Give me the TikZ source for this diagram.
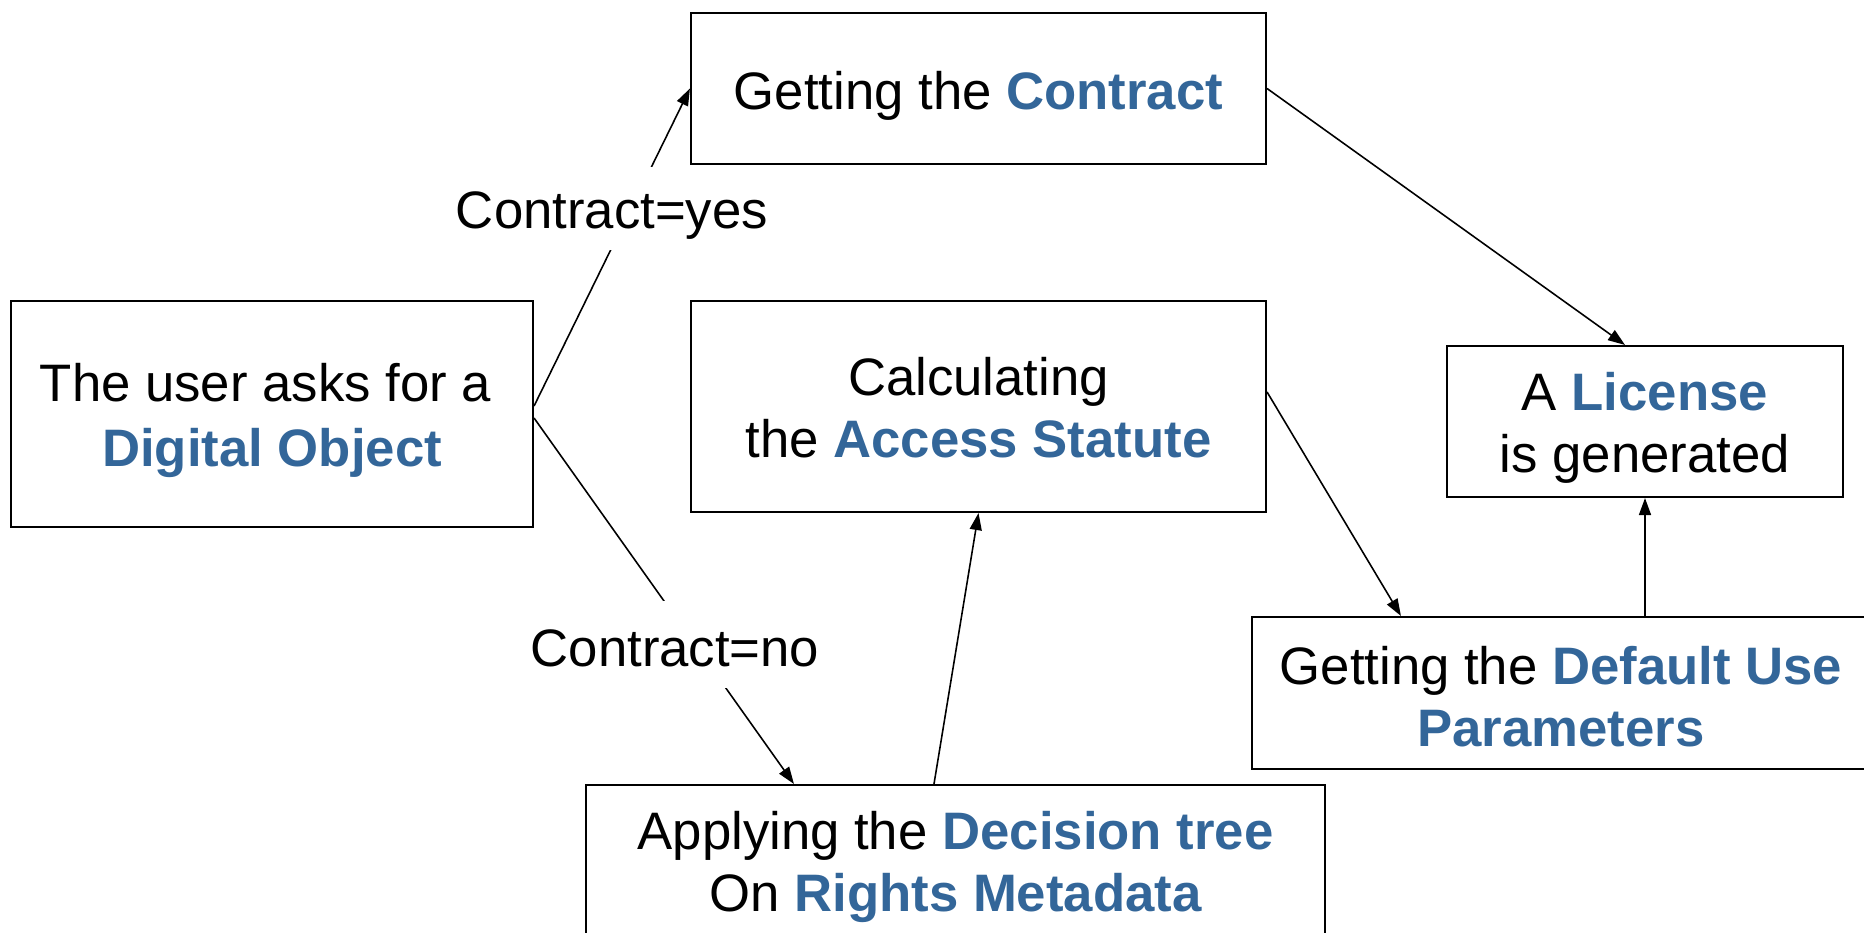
\documentclass[tikz,border=0pt]{standalone}
\usepackage{fontspec}
\setmainfont{Liberation Sans}
\usetikzlibrary{arrows.meta,calc,backgrounds}
\definecolor{kwblue}{RGB}{51,102,153}
\newcommand{\kw}[1]{\textbf{\color{kwblue}#1}}
\newcommand{\lift}[1]{\rule{0pt}{#1}}
\begin{document}
\begin{tikzpicture}[
  box/.style={draw=black, line width=0.6pt, inner sep=0pt, align=center,
              font=\fontsize{15}{17.6}\selectfont},
  lbl/.style={fill=white, inner sep=0pt, minimum width=3.2cm,
              font=\fontsize{15}{17.6}\selectfont},
  conn/.style={line width=0.45pt, -{Triangle[length=0.17cm,width=0.12cm]}},
  plain/.style={line width=0.45pt}
]
\useasboundingbox (0,0) rectangle (18.64,-9.32);

\node[box, minimum width=5.75cm, minimum height=1.51cm] (contract) at (9.785,-0.885)
  {\lift{15pt}Getting the \kw{Contract}};
\node[box, minimum width=5.22cm, minimum height=2.26cm] (user) at (2.72,-4.14)
  {\lift{14.5pt}\hspace*{-0.13cm}The user asks for a\\[1pt]\kw{Digital Object}};
\node[box, minimum width=5.75cm, minimum height=2.11cm] (access) at (9.785,-4.065)
  {\lift{11.6pt}Calculating\\the \kw{Access Statute}};
\node[box, minimum width=3.96cm, minimum height=1.51cm] (license) at (16.45,-4.215)
  {\lift{14.6pt}A \kw{License}\\is generated};
\node[box, minimum width=6.18cm, minimum height=1.52cm] (default) at (15.61,-6.93)
  {\lift{12.8pt}Getting the \kw{Default Use}\\\kw{Parameters}};
\node[box, minimum width=7.39cm, minimum height=1.54cm] (decision) at (9.555,-8.62)
  {\lift{13.8pt}Applying the \kw{Decision tree}\\On \kw{Rights Metadata}};

\node[lbl, minimum height=0.83cm] (yes) at (6.12,-2.085) {\lift{14.4pt}Contract=yes};
\node[lbl, minimum height=0.87cm, minimum width=3.0cm] (no) at (6.75,-6.44) {\lift{13pt}Contract=no};

\coordinate (uyes) at ($(user.east)+(0,0.08)$);
\coordinate (uno) at ($(user.east)+(0,-0.04)$);
\coordinate (dnoend) at ($(decision.north west)+(2.09,0)$);
\coordinate (dtop) at ($(decision.north)+(-0.215,0)$);
\coordinate (lictop) at ($(license.north)+(-0.2,0)$);
\coordinate (aright) at ($(access.east)+(0,0.145)$);
\coordinate (dfend) at ($(default.north west)+(1.5,0)$);

\begin{pgfonlayer}{background}
  \draw[conn] (uyes) -- (contract.west);
  \draw[conn] (uno) -- (dnoend);
  \draw[conn] (dtop) -- (access.south);
  \draw[conn] (contract.east) -- (lictop);
  \draw[conn] (aright) -- (dfend);
  \draw[conn] (default.north -| license.south) -- (license.south);
\end{pgfonlayer}
\end{tikzpicture}
\end{document}
